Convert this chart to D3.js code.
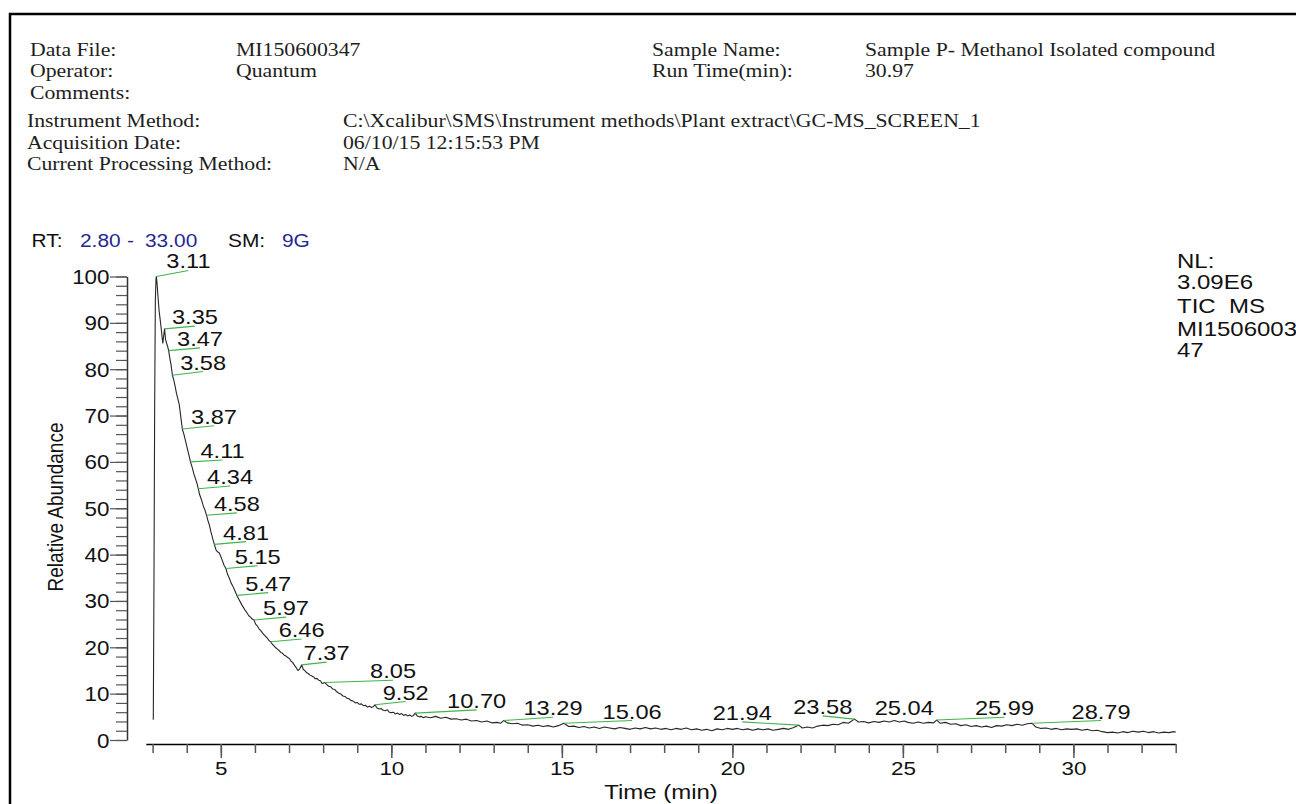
<!DOCTYPE html>
<html>
<head>
<meta charset="utf-8">
<script src="https://cdn.jsdelivr.net/npm/d3@7"></script>
<style>
  body { margin: 0; background: #fff; }
  svg { display: block; }
  .hdr { font-family: "Liberation Serif", "Times New Roman", serif; font-size: 19px; fill: #1e1e1e; }
  .sans { font-family: "Liberation Sans", Arial, sans-serif; fill: #111; }
</style>
</head>
<body>
<svg id="chart"></svg>
<script>
const width = 1296
const height = 804

// header block
const headerLeft = [["Data File:", "MI150600347"], ["Operator:", "Quantum"], ["Comments:", ""]]
const headerRight = [["Sample Name:", "Sample P- Methanol Isolated compound"], ["Run Time(min):", "30.97"]]
const headerMethod = [
    ["Instrument Method:", "C:\\Xcalibur\\SMS\\Instrument methods\\Plant extract\\GC-MS_SCREEN_1"],
    ["Acquisition Date:", "06/10/15 12:15:53 PM"],
    ["Current Processing Method:", "N/A"]
]
const nlLines = ["NL:", "3.09E6", "TIC\u00a0 MS", "MI1506003", "47"]

// axes
const rtRange = [2.80, 33.00]
const xMajorTicks = [5, 10, 15, 20, 25, 30]
const xMinorTicks = d3.range(3, 34)
const yMajorTicks = [0, 10, 20, 30, 40, 50, 60, 70, 80, 90, 100]
const yMinorTicks = d3.range(0, 101, 2)

// TIC trace, [retention time (min), relative abundance]
const ticTrace = [
    [3.00, 4.6], [3.02, 4.5], [3.04, 35], [3.06, 72], [3.08, 95], [3.10, 99.6], [3.11, 100],
    [3.13, 98.5], [3.16, 95.4], [3.19, 92.6], [3.22, 90.8], [3.25, 88.9], [3.28, 86.8], [3.30, 85.6],
    [3.32, 86.9], [3.35, 88.7], [3.38, 86.4], [3.41, 85.6], [3.44, 84.9], [3.47, 84.0], [3.50, 82.6],
    [3.54, 81.0], [3.58, 78.7], [3.62, 77.7], [3.66, 76.3], [3.70, 74.8], [3.74, 73.6], [3.78, 72.4],
    [3.82, 70.1], [3.87, 67.1], [3.92, 65.9], [3.97, 64.4], [4.02, 62.8], [4.06, 61.6], [4.11, 60.0],
    [4.16, 58.8], [4.21, 57.4], [4.26, 56.3], [4.30, 55.4], [4.34, 54.2], [4.38, 52.9], [4.43, 51.9],
    [4.48, 50.6], [4.53, 49.7], [4.58, 48.5], [4.62, 47.4], [4.66, 46.5], [4.71, 44.9], [4.76, 43.5],
    [4.81, 42.2], [4.86, 41.0], [4.90, 40.6], [4.95, 40.4], [5.00, 39.6], [5.05, 38.6], [5.10, 37.6],
    [5.15, 37.0], [5.20, 35.7], [5.25, 34.9], [5.30, 33.9], [5.35, 33.2], [5.40, 32.4], [5.47, 31.2],
    [5.52, 30.5], [5.57, 29.8], [5.62, 29.1], [5.67, 28.5], [5.72, 27.9], [5.77, 27.4], [5.82, 26.8],
    [5.87, 26.5], [5.92, 26.1], [5.97, 25.9], [6.02, 25.0], [6.07, 24.6], [6.12, 24.0], [6.17, 23.6],
    [6.22, 23.1], [6.27, 22.7], [6.32, 22.3], [6.37, 21.9], [6.41, 21.5], [6.46, 21.2], [6.51, 20.7],
    [6.56, 20.3], [6.61, 19.9], [6.66, 19.6], [6.71, 19.3], [6.76, 18.9], [6.81, 18.7], [6.86, 18.3],
    [6.91, 18.1], [6.96, 17.8], [7.01, 17.6], [7.06, 17.0], [7.11, 16.7], [7.16, 16.1], [7.21, 15.6],
    [7.26, 15.0], [7.31, 15.3], [7.37, 16.2], [7.42, 15.2], [7.47, 14.9], [7.52, 14.5], [7.57, 14.3],
    [7.62, 14.0], [7.67, 13.8], [7.72, 13.6], [7.77, 13.2], [7.82, 13.3], [7.87, 12.9], [7.92, 12.8],
    [7.97, 12.2], [8.05, 12.4], [8.10, 12.0], [8.16, 11.6], [8.22, 11.5], [8.28, 11.0], [8.34, 10.9],
    [8.40, 10.4], [8.46, 10.1], [8.52, 9.9], [8.58, 9.5], [8.64, 9.4], [8.70, 9.0], [8.76, 8.9],
    [8.82, 8.5], [8.88, 8.4], [8.94, 8.0], [9.00, 8.1], [9.06, 7.7], [9.12, 7.8], [9.18, 7.4],
    [9.24, 7.5], [9.30, 7.1], [9.36, 7.3], [9.42, 7.0], [9.47, 7.2], [9.52, 7.6], [9.58, 6.9],
    [9.64, 6.7], [9.70, 6.8], [9.76, 6.4], [9.82, 6.3], [9.88, 6.5], [9.94, 6.0], [10.00, 5.9],
    [10.06, 6.0], [10.12, 5.6], [10.18, 5.8], [10.24, 5.5], [10.30, 5.7], [10.36, 5.3], [10.42, 5.5],
    [10.48, 5.2], [10.54, 5.4], [10.60, 5.1], [10.65, 5.3], [10.70, 5.8], [10.76, 5.2], [10.82, 5.0],
    [10.88, 5.1], [10.94, 4.8], [11.00, 5.0], [11.15, 4.8], [11.30, 5.1], [11.45, 4.7], [11.60, 4.9],
    [11.75, 4.5], [11.90, 4.6], [12.05, 4.3], [12.20, 4.5], [12.35, 4.1], [12.50, 4.2], [12.65, 3.9],
    [12.80, 4.1], [12.95, 3.7], [13.10, 3.8], [13.20, 3.6], [13.29, 4.2], [13.40, 3.7], [13.55, 3.5],
    [13.70, 3.6], [13.85, 3.2], [14.00, 3.3], [14.15, 3.0], [14.30, 3.2], [14.45, 2.9], [14.60, 3.1],
    [14.75, 2.8], [14.90, 3.1], [15.06, 3.6], [15.20, 2.9], [15.35, 3.0], [15.50, 2.7], [15.65, 2.9],
    [15.80, 2.6], [15.95, 2.8], [16.10, 2.5], [16.25, 2.8], [16.40, 2.6], [16.55, 2.4], [16.70, 2.7],
    [16.85, 2.5], [17.00, 2.3], [17.15, 2.6], [17.30, 2.4], [17.45, 2.7], [17.60, 2.4], [17.75, 2.6],
    [17.90, 2.3], [18.05, 2.5], [18.20, 2.2], [18.35, 2.5], [18.50, 2.3], [18.65, 2.6], [18.80, 2.2],
    [18.95, 2.4], [19.10, 2.1], [19.25, 2.3], [19.40, 2.0], [19.55, 2.4], [19.70, 2.2], [19.85, 2.5],
    [20.00, 2.3], [20.15, 2.5], [20.30, 2.2], [20.45, 2.4], [20.60, 2.1], [20.75, 2.4], [20.90, 2.2],
    [21.05, 2.4], [21.20, 2.1], [21.35, 2.3], [21.50, 2.5], [21.65, 2.3], [21.80, 2.7], [21.94, 3.2],
    [22.05, 2.6], [22.20, 2.8], [22.35, 2.6], [22.50, 3.0], [22.65, 3.2], [22.80, 3.1], [22.95, 3.4],
    [23.10, 3.3], [23.25, 3.8], [23.40, 3.6], [23.58, 4.5], [23.70, 3.9], [23.85, 4.0], [24.00, 3.7],
    [24.15, 4.0], [24.30, 3.8], [24.45, 4.1], [24.60, 3.9], [24.75, 4.2], [24.90, 3.9], [25.04, 4.1],
    [25.15, 3.8], [25.30, 3.6], [25.45, 3.9], [25.60, 3.6], [25.75, 3.8], [25.90, 3.7], [25.99, 4.3],
    [26.10, 3.6], [26.25, 3.8], [26.40, 3.4], [26.55, 3.5], [26.70, 3.1], [26.85, 3.3], [27.00, 2.9],
    [27.15, 3.1], [27.30, 2.8], [27.45, 3.0], [27.60, 2.7], [27.75, 3.1], [27.90, 3.0], [28.05, 3.3],
    [28.20, 3.1], [28.35, 3.4], [28.50, 3.2], [28.65, 3.5], [28.79, 3.6], [28.90, 2.8], [29.05, 2.5],
    [29.20, 2.6], [29.35, 2.3], [29.50, 2.5], [29.65, 2.2], [29.80, 2.4], [29.95, 2.3], [30.10, 2.4],
    [30.25, 2.1], [30.40, 2.3], [30.55, 2.0], [30.70, 2.1], [30.85, 1.8], [31.00, 1.6], [31.15, 1.7],
    [31.30, 1.5], [31.45, 1.8], [31.60, 1.6], [31.75, 1.9], [31.90, 1.7], [32.05, 1.9], [32.20, 1.6],
    [32.35, 1.8], [32.50, 1.5], [32.65, 1.7], [32.80, 1.6], [32.95, 1.8], [33.00, 1.7]
]

// labelled peaks: apex and where the label leader ends (label sits on it)
const peakRT    = [3.11, 3.35, 3.47, 3.58, 3.87, 4.11, 4.34, 4.58, 4.81, 5.15, 5.47, 5.97, 6.46, 7.37, 8.05, 9.52, 10.70, 13.29, 15.06, 21.94, 23.58, 25.04, 25.99, 28.79]
const peakAbund = [100, 88.7, 84.0, 78.7, 67.1, 60.0, 54.2, 48.5, 42.2, 37.0, 31.2, 25.9, 21.2, 16.2, 12.4, 7.6, 5.8, 4.2, 3.6, 3.2, 4.5, 4.1, 4.3, 3.6]
const labelRT   = [4.05, 4.24, 4.39, 4.48, 4.80, 5.05, 5.27, 5.47, 5.74, 6.08, 6.39, 6.91, 7.37, 8.10, 10.05, 10.42, 12.50, 14.74, 17.06, 20.29, 22.65, 25.04, 27.98, 30.81]
const labelAbund = [101.3, 89.3, 84.6, 79.5, 67.8, 60.4, 54.8, 49.0, 42.8, 37.6, 31.8, 26.5, 21.8, 16.8, 12.9, 8.3, 6.5, 4.9, 4.2, 3.9, 5.2, 5.0, 4.9, 4.2]

const svg = d3.select("#chart")
            .attr("width", width)
            .attr("height", height);

// stretched text, the printout is a bit wider than the fonts we have
function addText(g, x, y, str, cls, size, sx, anchor) {
    return g.append("text")
        .attr("class", cls)
        .attr("transform", `translate(${x},${y}) scale(${sx},1)`)
        .attr("text-anchor", anchor || "start")
        .style("font-size", size + "px")
        .text(str);
}

// page frame
svg.append("path")
   .attr("d", `M10,${height + 5}V14H${width + 5}`)
   .attr("fill", "none")
   .attr("stroke", "#000")
   .attr("stroke-width", 2.5);

const hdr = svg.append("g");
headerLeft.forEach(function(row, i) {
    addText(hdr, 30, 56 + i * 21.3, row[0], "hdr", 19, 1.145);
    addText(hdr, 236, 56 + i * 21.3, row[1], "hdr", 19, 1.145);
});
headerRight.forEach(function(row, i) {
    addText(hdr, 652, 56 + i * 21.3, row[0], "hdr", 19, 1.145);
    addText(hdr, 865, 56 + i * 21.3, row[1], "hdr", 19, 1.145);
});
headerMethod.forEach(function(row, i) {
    addText(hdr, 27, 127 + i * 21.6, row[0], "hdr", 19, 1.145);
    addText(hdr, 343, 127 + i * 21.6, row[1], "hdr", 19, 1.145);
});

// RT / SM line
const blue = "#26268f";
const rtLine = [
    ["RT:", 31.5, "#111"], [rtRange[0].toFixed(2), 80, blue], ["-", 127, blue],
    [rtRange[1].toFixed(2), 145, blue], ["SM:", 228, "#111"], ["9G", 282, blue]
];
rtLine.forEach(function(p) {
    addText(svg, p[1], 247, p[0], "sans", 19, 1.1).style("fill", p[2]);
});

// NL block on the right
nlLines.forEach(function(s, i) {
    addText(svg, 1177, [268, 289, 313, 336, 357][i], s, "sans", 20, 1.2);
});

const x = d3.scaleLinear().domain(rtRange).range([145.8, 1175.7]);
const y = d3.scaleLinear().domain([0, 100]).range([740, 276.5]);

// x axis: minor every minute, labelled every 5
const xMinor = svg.append("g")
    .attr("transform", "translate(0,744)")
    .call(d3.axisBottom(x).tickValues(xMinorTicks).tickSize(9).tickSizeOuter(0).tickFormat(""));
xMinor.select(".domain").attr("stroke", "#000").attr("stroke-width", 1.5);
xMinor.selectAll(".tick line").attr("stroke", "#555").attr("stroke-width", 1.5);

const xMajor = svg.append("g")
    .attr("transform", "translate(0,744)")
    .call(d3.axisBottom(x).tickValues(xMajorTicks).tickSize(14).tickSizeOuter(0));
xMajor.select(".domain").remove();
xMajor.selectAll(".tick line").attr("stroke", "#555").attr("stroke-width", 1.5);
xMajor.selectAll(".tick text")
    .attr("class", "sans")
    .attr("y", null).attr("dy", null)
    .attr("transform", "translate(0,31) scale(1.18,1)")
    .attr("font-family", null).attr("font-size", null)
    .style("font-size", "19px")
    .attr("fill", "#111");

// y axis: minor every 2 %, labelled every 10
const yMinor = svg.append("g")
    .attr("transform", "translate(127,0)")
    .call(d3.axisLeft(y).tickValues(yMinorTicks).tickSize(11).tickSizeOuter(0).tickFormat(""));
yMinor.select(".domain").attr("stroke", "#333").attr("stroke-width", 1.5);
yMinor.selectAll(".tick line").attr("stroke", "#555").attr("stroke-width", 1.2);

const yMajor = svg.append("g")
    .attr("transform", "translate(127,0)")
    .call(d3.axisLeft(y).tickValues(yMajorTicks).tickSize(17).tickSizeOuter(0));
yMajor.select(".domain").remove();
yMajor.selectAll(".tick line").attr("stroke", "#555").attr("stroke-width", 1.2);
yMajor.selectAll(".tick text")
    .attr("class", "sans")
    .attr("x", null).attr("dy", null)
    .attr("transform", "translate(-17.5,7) scale(1.12,1)")
    .attr("font-family", null).attr("font-size", null)
    .style("font-size", "20px")
    .attr("fill", "#111");

// axis titles
addText(svg, 661, 799, "Time (min)", "sans", 20, 1.2, "middle");
svg.append("text")
   .attr("class", "sans")
   .attr("transform", "translate(63,507) scale(1.2,1) rotate(-90)")
   .attr("text-anchor", "middle")
   .style("font-size", "19px")
   .text("Relative Abundance");

// the chromatogram
const line = d3.line()
    .x(d => x(d[0]))
    .y(d => y(d[1]));

svg.append("path")
   .datum(ticTrace)
   .attr("d", line)
   .attr("fill", "none")
   .attr("stroke", "#262626")
   .attr("stroke-width", 1.1)
   .attr("stroke-linejoin", "round");

// peak labels with their green leaders
const peaks = peakRT.map(function(rt, i) {
    return { rt: rt, ab: peakAbund[i], lrt: labelRT[i], lab: labelAbund[i] };
});

svg.append("g").selectAll("line")
   .data(peaks.filter(d => d.lrt !== d.rt))
   .enter()
   .append("line")
   .attr("x1", d => x(d.rt))
   .attr("y1", d => y(d.ab))
   .attr("x2", d => x(d.lrt))
   .attr("y2", d => y(d.lab))
   .attr("stroke", "#3fb54a")
   .attr("stroke-width", 1.1);

const labels = svg.append("g");
peaks.forEach(function(d) {
    addText(labels, x(d.lrt), y(d.lab) - 2, d.rt.toFixed(2), "sans", 20, 1.18, "middle");
});
</script>
</body>
</html>
